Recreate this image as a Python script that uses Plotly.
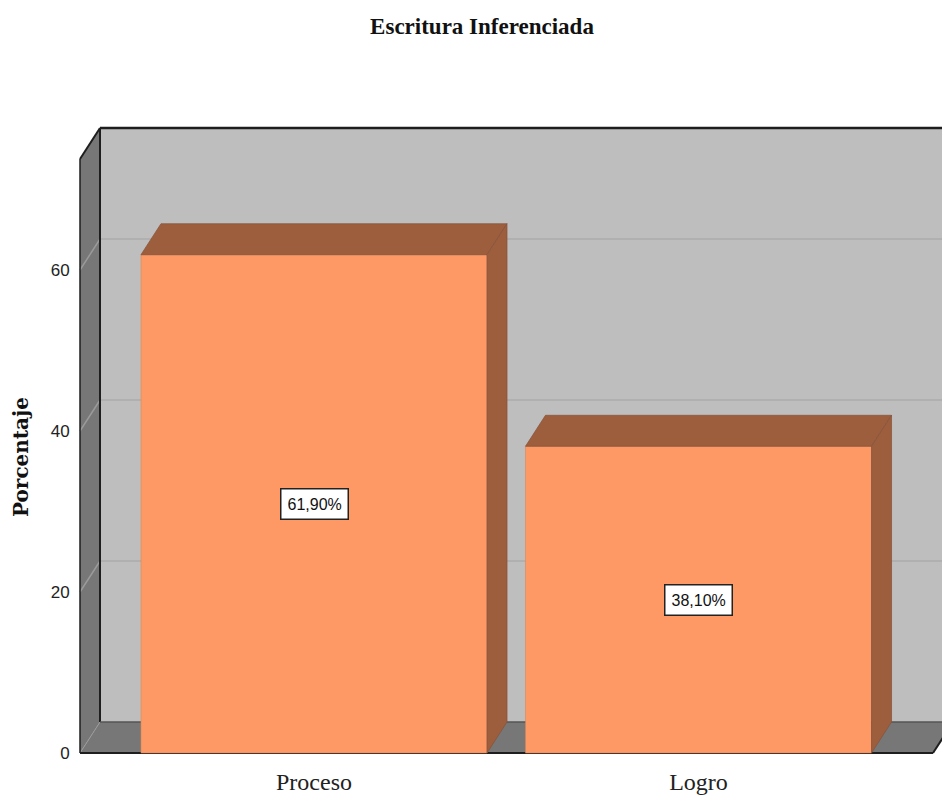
import plotly.graph_objects as go

categories = ["Proceso", "Logro"]
values = [61.9, 38.1]
value_labels = ["61,90%", "38,10%"]
y_ticks = [0, 20, 40, 60]
title_text = "Escritura Inferenciada"
y_title = "Porcentaje"

FRONT = "#FE9966"
SHADE = "#9C5E3D"
WALL = "#BEBEBE"
SIDE = "#777777"
GRID = "#ABABAB"
DARK = "#1E1E1E"

W, H = 942, 796
L, R, T, B = 76, 942, 124, 757   # plot area in page pixels
PX_X = 384.5           # pixels per category step
PX_Y = 8.05            # pixels per percentage unit
xr = [(L - 314) / PX_X, (R - 314) / PX_X]
yr = [(753 - B) / PX_Y, (753 - T) / PX_Y]
dx, dy = 20 / PX_X, 31 / PX_Y
bw = 0.9
x_front_l, x_front_r = (80 - 314) / PX_X, (933 - 314) / PX_X
y_front_top = (753 - 159) / PX_Y
xs = list(range(len(categories)))

fig = go.Figure()
shapes = []


def poly(points, fill, line=None, lw=0):
    path = "M " + " L ".join(f"{a},{b}" for a, b in points) + " Z"
    shapes.append(dict(type="path", path=path, xref="x", yref="y", layer="below",
                       fillcolor=fill, line=dict(color=line or fill, width=lw)))


def seg(a, b, color, lw):
    shapes.append(dict(type="line", x0=a[0], y0=a[1], x1=b[0], y1=b[1], xref="x", yref="y",
                       layer="below", line=dict(color=color, width=lw)))


# back wall, left wall, floor
poly([(x_front_l + dx, dy), (x_front_r + dx * 3, dy), (x_front_r + dx * 3, y_front_top + dy),
      (x_front_l + dx, y_front_top + dy)], WALL)
poly([(x_front_l, 0), (x_front_l + dx, dy), (x_front_l + dx, y_front_top + dy), (x_front_l, y_front_top)], SIDE)
poly([(x_front_l, 0), (x_front_r, 0), (x_front_r + dx, dy), (x_front_r + dx * 2, dy), (x_front_l + dx, dy)], SIDE)

# gridlines on the left wall and back wall
for t in y_ticks[1:]:
    seg((x_front_l, t), (x_front_l + dx, t + dy), "#9A9A9A", 1.5)
    seg((x_front_l + dx, t + dy), (xr[1], t + dy), GRID, 1.5)
seg((x_front_l, 0), (x_front_l + dx, dy), "#9A9A9A", 1)

# dark frame
seg((x_front_l, 0), (x_front_l, y_front_top), DARK, 1.5)
seg((x_front_l + dx, dy), (x_front_l + dx, y_front_top + dy), DARK, 2)
seg((x_front_l, y_front_top), (x_front_l + dx, y_front_top + dy), DARK, 2)
seg((x_front_l + dx, y_front_top + dy), (xr[1], y_front_top + dy), DARK, 2.5)
seg((x_front_l, 0), (x_front_r, 0), DARK, 2)
seg((x_front_r, 0), (x_front_r + dx, dy), DARK, 2)
seg((x_front_l + dx, dy), (xr[1], dy), "#555555", 1.5)

# front faces of the bars
fig.add_trace(go.Bar(x=xs, y=values, width=bw, marker=dict(color=FRONT, line=dict(color="#D08058", width=0.5)),
                     hoverinfo="skip", showlegend=False))

# top and side faces of the bars, derived from the values
for x, v in zip(xs, values):
    a, b = x - bw / 2, x + bw / 2
    fig.add_trace(go.Scatter(x=[a, b, b + dx, a + dx, a], y=[v, v, v + dy, v + dy, v], mode="lines",
                             fill="toself", fillcolor=SHADE, line=dict(color="#85523A", width=0.7),
                             hoverinfo="skip", showlegend=False))
    fig.add_trace(go.Scatter(x=[b, b + dx, b + dx, b, b], y=[0, dy, v + dy, v, 0], mode="lines",
                             fill="toself", fillcolor=SHADE, line=dict(color="#85523A", width=0.7),
                             hoverinfo="skip", showlegend=False))

annotations = [
    dict(x=x, y=v / 2, xref="x", yref="y", text=lab, showarrow=False,
         font=dict(family="Liberation Sans", size=16, color="#111111"),
         bgcolor="white", bordercolor="#222222", borderwidth=1.5, borderpad=6)
    for x, v, lab in zip(xs, values, value_labels)
]
annotations.append(dict(x=(21 - L) / (R - L), y=1 - (457 - T) / (B - T), xref="paper", yref="paper",
                        text=f"<b>{y_title}</b>", textangle=-90, showarrow=False,
                        xanchor="center", yanchor="middle",
                        font=dict(family="DejaVu Serif", size=20, color="#111111")))

fig.update_layout(
    width=W, height=H, autosize=False, paper_bgcolor="white", plot_bgcolor="white",
    margin=dict(l=L, r=W - R, t=T, b=H - B, pad=0),
    barmode="overlay", showlegend=False, shapes=shapes, annotations=annotations,
    title=dict(text=f"<b>{title_text}</b>", x=482 / W, xanchor="center", y=1 - 26 / H,
               yanchor="middle", font=dict(family="Liberation Serif", size=23, color="#111111")),
    xaxis=dict(range=xr, tickmode="array", tickvals=xs, ticktext=categories, showgrid=False, zeroline=False,
               showline=False, ticks="outside", ticklen=3, tickcolor="rgba(0,0,0,0)", automargin=False,
               tickfont=dict(family="Liberation Serif", size=24, color="#222222")),
    yaxis=dict(range=yr, tickmode="array", tickvals=y_ticks, showgrid=False, zeroline=False,
               showline=False, ticks="outside", ticklen=2, tickcolor="rgba(0,0,0,0)", automargin=False,
               tickfont=dict(family="Liberation Sans", size=17, color="#222222")),
)

fig.write_html("out.html", config={"displayModeBar": False},
               post_script="document.body.style.margin='0';document.documentElement.style.overflow='hidden';")
